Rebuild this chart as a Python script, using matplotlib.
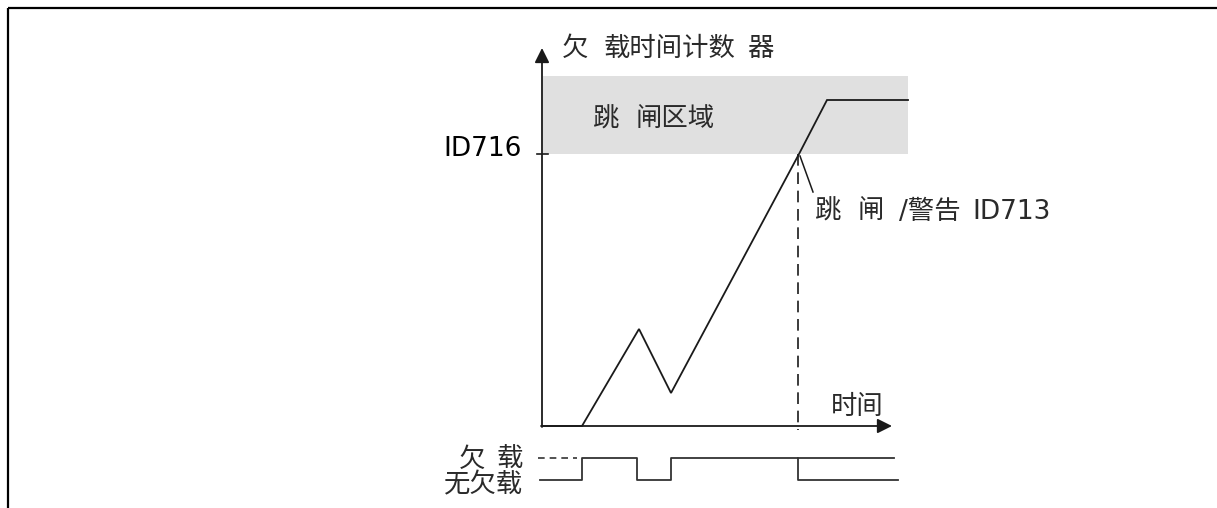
import matplotlib
matplotlib.use("Agg")
import matplotlib.pyplot as plt
from matplotlib.patches import Rectangle

plt.rcParams['font.family'] = ['DejaVu Sans', 'Noto Sans CJK SC']

# ---- data (time / counter units of the diagram) ----
curve_t = [0, 40, 97, 129, 257, 285, 366]
curve_counter = [0, 0, 97, 33, 272, 326, 326]
trip_level = 272          # ID716
trip_time = 256           # ID713 trip moment
band_top = 350
y_axis_top = 378
x_axis_end = 350

sig_high, sig_low = -32, -54
sig_t = [-2, 40, 40, 95, 95, 129, 129, 256, 256, 356]
sig_state = [0, 0, 1, 1, 0, 0, 1, 1, 0, 0]

title_txt = "欠 载时间计数 器"
zone_txt = "跳 闸区域"
limit_txt = "ID716"
trip_txt = "跳 闸 /警告 ID713"
time_txt = "时间"
under_txt = "欠 载"
no_under_txt = "无欠载"

fig = plt.figure(figsize=(12.17, 5.08), dpi=100)
ax = fig.add_axes([0, 0, 1, 1])
X0 = 542
ax.set_xlim(-X0, 1217 - X0)
ax.set_ylim(426 - 508, 426)
ax.axis('off')

line_c = '#1a1a1a'
txt_c = '#2a2a2a'
fs_cjk = 19
fs_lat = 19


def put_words(text, starts, y, fs=fs_cjk, color=txt_c):
    """Place the space-separated words of text at the given left edges."""
    for word, x in zip(text.split(' '), starts):
        ax.text(x, y, word, fontsize=fs, color=color, va='center', ha='left')


# frame (top + left)
ax.plot([-534, 1217 - X0], [418, 418], color='black', lw=1.6, solid_capstyle='butt')
ax.plot([-534, -534], [418, -82], color='black', lw=1.6, solid_capstyle='butt')

# trip zone band
ax.add_patch(Rectangle((1, trip_level), 365, band_top - trip_level,
                       facecolor='#e0e0e0', edgecolor='none', zorder=0))

# axes with arrows
ax.annotate('', xy=(0, y_axis_top), xytext=(0, -1),
            arrowprops=dict(arrowstyle='-|>', color=line_c, lw=1.3,
                            mutation_scale=22, shrinkA=0, shrinkB=0))
ax.annotate('', xy=(x_axis_end, 0), xytext=(-1, 0),
            arrowprops=dict(arrowstyle='-|>', color=line_c, lw=1.3,
                            mutation_scale=22, shrinkA=0, shrinkB=0))

# ID716 tick
ax.plot([-5, 6], [trip_level, trip_level], color=line_c, lw=1.2)

# counter curve
ax.plot(curve_t, curve_counter, color=line_c, lw=1.3, solid_joinstyle='miter')

# dashed trip time line
ax.plot([trip_time, trip_time], [trip_level, -4], color=line_c, lw=1.2,
        dashes=(7, 4))

# annotation leader
ax.plot([258, 271], [270, 234], color=line_c, lw=1.1)

# texts
put_words(title_txt, [562 - X0, 604 - X0, 747 - X0], 377)
put_words(zone_txt, [592 - X0, 636 - X0], 306)
ax.text(522 - X0, 277, limit_txt, fontsize=fs_lat, color='black',
        va='center', ha='right')
put_words(trip_txt, [814 - X0, 858 - X0, 899 - X0, 972 - X0], 214)
ax.text(831 - X0, 19, time_txt, fontsize=fs_cjk, color=txt_c, va='center', ha='left')
u_words = under_txt.split(' ')
ax.text(485 - X0, -34, u_words[0], fontsize=fs_cjk, color=txt_c, va='center', ha='right')
ax.text(523 - X0, -34, u_words[1], fontsize=fs_cjk, color=txt_c, va='center', ha='right')
ax.text(523 - X0, -59, no_under_txt, fontsize=fs_cjk, color=txt_c, va='center', ha='right')

# under-load signal
levels = [sig_high if s else sig_low for s in sig_state]
ax.plot(sig_t, levels, color='#333333', lw=1.3)
ax.plot([-4, 35], [sig_high, sig_high], color='#333333', lw=1.2, dashes=(4, 3))
ax.plot([trip_time, 352], [sig_high, sig_high], color='#333333', lw=1.3)

fig.savefig('out.png', dpi=100)
